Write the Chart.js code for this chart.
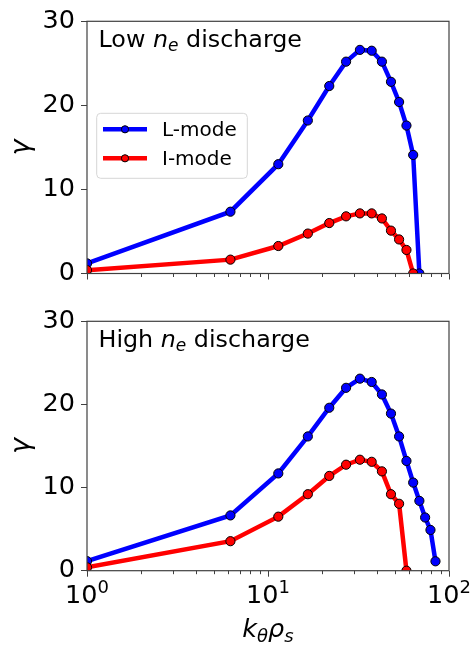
<!DOCTYPE html>
<html><head><meta charset="utf-8">
<script src="https://cdn.jsdelivr.net/npm/chart.js@4.4.1/dist/chart.umd.min.js"></script>
<style>
html,body{margin:0;padding:0;background:#fff;width:473px;height:646px;overflow:hidden}
#c1{position:absolute;left:0;top:0}
#c2{position:absolute;left:0;top:300px}
</style></head><body>
<canvas id="c1" width="473" height="300"></canvas>
<canvas id="c2" width="473" height="346"></canvas>
<script>
// ---- data ----
const kGrid = [1, 6.2, 11.4, 16.6, 21.8, 27, 32.2, 37.4, 42.6, 47.8, 53, 58.2, 63.4, 68.6, 73.8, 79, 84.2];
const lowL  = [1.2, 7.35, 13.0, 18.2, 22.3, 25.2, 26.6, 26.5, 25.2, 22.8, 20.4, 17.6, 14.1, 0];
const lowI  = [0.4, 1.65, 3.27, 4.75, 6.0, 6.8, 7.15, 7.15, 6.55, 5.1, 4.05, 2.8, 0];
const highL = [1.15, 6.65, 11.7, 16.15, 19.6, 22.0, 23.1, 22.7, 21.2, 18.9, 16.15, 13.2, 10.6, 8.4, 6.4, 4.9, 1.13];
const highI = [0.4, 3.55, 6.5, 9.2, 11.4, 12.75, 13.35, 13.1, 11.95, 9.2, 8.05, 0];
const seriesNames = ['L-mode', 'I-mode'];
const panelTitles = ['Low', 'High'];
const yTicks = [0, 10, 20, 30];
const xMajorTicks = [1, 10, 100];
const xTickExponents = ['0', '1', '2'];
const xMinorTicks = [2,3,4,5,6,7,8,9,20,30,40,50,60,70,80,90];

const FONT = "'DejaVu Sans'";
const BLUE = '#0000ff', RED = '#ff0000', FRAME = '#404040';
Chart.defaults.font.family = FONT;

const pts = ys => ys.map((y, i) => ({x: kGrid[i], y}));

function drawRuns(ctx, x, y, runs, align) {
  let total = 0;
  runs.forEach(r => { ctx.font = r.font; r.w = ctx.measureText(r.t).width; total += r.w; });
  let cx = align === 'center' ? x - total / 2 : x;
  ctx.textAlign = 'left'; ctx.textBaseline = 'alphabetic';
  runs.forEach(r => { ctx.font = r.font; ctx.fillText(r.t, cx, y + (r.dy || 0)); cx += r.w; });
}

function makeChart(id, L, I, panel, bottomPanel, xH, padTop) {
  const deco = {
    id: 'deco' + panel,
    afterDatasetsDraw(chart) {
      const ctx = chart.ctx, a = chart.chartArea, xs = chart.scales.x;
      ctx.save();
      // frame
      ctx.strokeStyle = FRAME; ctx.lineWidth = 1.2;
      ctx.strokeRect(a.left, a.top, a.right - a.left, a.bottom - a.top);
      // minor x ticks
      ctx.lineWidth = 1;
      xMinorTicks.forEach(v => {
        const px = Math.round(xs.getPixelForValue(v)) + 0.5;
        ctx.beginPath(); ctx.moveTo(px, a.bottom); ctx.lineTo(px, a.bottom + 3.5); ctx.stroke();
      });
      ctx.fillStyle = '#000';
      // panel title
      drawRuns(ctx, a.left + 11.5, a.top + 25.5, [
        {t: panelTitles[panel] + ' ', font: `23.8px ${FONT}`},
        {t: 'n', font: `italic 23.8px ${FONT}`},
        {t: 'e', font: `italic 17px ${FONT}`, dy: 4.5},
        {t: ' discharge', font: `23.8px ${FONT}`}
      ], 'left');
      // y title
      ctx.save();
      ctx.translate(29, (a.top + a.bottom) / 2);
      ctx.rotate(-Math.PI / 2);
      ctx.font = `italic 27px ${FONT}`; ctx.textAlign = 'center'; ctx.textBaseline = 'alphabetic';
      ctx.fillText('γ', 0, 0);
      ctx.restore();
      if (!bottomPanel) {
        // legend
        const bx = 96.7, by = 113.3, bw = 150.6, bh = 65;
        ctx.fillStyle = 'rgba(255,255,255,0.8)';
        ctx.strokeStyle = '#d6d6d6'; ctx.lineWidth = 1;
        ctx.beginPath(); ctx.roundRect(bx, by, bw, bh, 4); ctx.fill(); ctx.stroke();
        const cols = [BLUE, RED], rows = [129.3, 158.3];
        rows.forEach((ry, i) => {
          ctx.strokeStyle = cols[i]; ctx.lineWidth = 4.5;
          ctx.beginPath(); ctx.moveTo(103, ry); ctx.lineTo(147, ry); ctx.stroke();
          ctx.fillStyle = cols[i]; ctx.strokeStyle = '#000'; ctx.lineWidth = 1;
          ctx.beginPath(); ctx.arc(125, ry, 3.6, 0, Math.PI * 2); ctx.fill(); ctx.stroke();
          ctx.fillStyle = '#000'; ctx.font = `20px ${FONT}`;
          ctx.textAlign = 'left'; ctx.textBaseline = 'alphabetic';
          ctx.fillText(seriesNames[i], 162, ry + 7);
        });
      } else {
        // x tick labels 10^n
        xMajorTicks.forEach((v, i) => {
          const px = xs.getPixelForValue(v);
          drawRuns(ctx, px, a.bottom + 32.5, [
            {t: '10', font: `25.5px ${FONT}`},
            {t: xTickExponents[i], font: `18px ${FONT}`, dy: -10.5}
          ], 'center');
        });
        // x title
        drawRuns(ctx, (a.left + a.right) / 2, a.bottom + 66.5, [
          {t: 'k', font: `italic 25.5px ${FONT}`},
          {t: 'θ', font: `italic 18px ${FONT}`, dy: 4.5},
          {t: 'ρ', font: `italic 25.5px ${FONT}`},
          {t: 's', font: `italic 18px ${FONT}`, dy: 4.5}
        ], 'center');
      }
      ctx.restore();
    }
  };
  const ds = (label, ys, col, order) => ({
    label, data: pts(ys), borderColor: col, backgroundColor: col,
    borderWidth: 4.5, tension: 0, pointRadius: 4.6, pointBorderWidth: 1,
    pointBackgroundColor: col, pointBorderColor: '#000', clip: 0, order
  });
  return new Chart(document.getElementById(id), {
    type: 'line',
    data: { datasets: [ds(seriesNames[0], L, BLUE, 2), ds(seriesNames[1], I, RED, 1)] },
    options: {
      responsive: false, animation: false, devicePixelRatio: 1,
      layout: { padding: { top: padTop, right: 24, left: 0, bottom: 0 } },
      plugins: { legend: { display: false }, tooltip: { enabled: false } },
      scales: {
        x: {
          type: 'logarithmic', min: 1, max: 100,
          grid: { display: true, drawOnChartArea: false, drawTicks: true, tickLength: 6,
                  color: c => (c.tick && xMajorTicks.includes(c.tick.value)) ? FRAME : 'rgba(0,0,0,0)' },
          border: { display: false },
          ticks: { display: false, autoSkip: false },
          afterFit: s => { s.height = xH; }
        },
        y: {
          min: 0, max: 30,
          afterBuildTicks: s => { s.ticks = yTicks.map(v => ({value: v})); },
          grid: { display: true, drawOnChartArea: false, drawTicks: true, tickLength: 6, color: FRAME },
          border: { display: false },
          ticks: { font: { size: 25.5, family: FONT }, color: '#000', padding: 6 },
          afterFit: s => { s.width = 87; }
        }
      }
    },
    plugins: [deco]
  });
}

makeChart('c1', lowL, lowI, 0, false, 300 - 273.5, 17.3);
makeChart('c2', highL, highI, 1, true, 346 - 270.7, 14.5);
</script>
</body></html>
